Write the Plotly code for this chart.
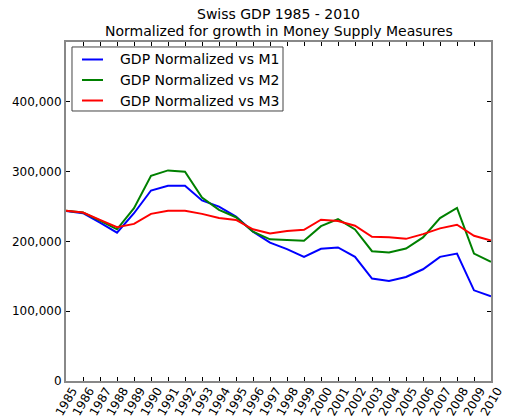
import plotly.graph_objects as go

years = list(range(1985, 2011))

gdp_m1 = [243900, 240500, 227100, 212700, 240500, 273100, 279900, 279900, 258800, 250100,
          235700, 214100, 198300, 189000, 178000, 189500, 191500, 178000, 146800, 143400,
          149200, 160200, 178000, 182700, 130000, 121400]
gdp_m2 = [243900, 241500, 230000, 217500, 247700, 294200, 301900, 300000, 263100, 245300,
          234800, 214100, 203100, 202000, 201000, 222000, 232000, 217300, 186100, 184200,
          190000, 205800, 233600, 248000, 182700, 170800]
gdp_m3 = [243900, 241500, 231000, 220400, 225200, 239600, 243900, 243900, 239600, 233800,
          230900, 217500, 211500, 215000, 216800, 231200, 229300, 222600, 206700, 206200,
          203800, 210600, 218800, 224000, 208200, 201400]

title_lines = ["Swiss GDP 1985 - 2010", "Normalized for growth in Money Supply Measures"]

series = [
    ("GDP Normalized vs M1", gdp_m1, "#0000ff"),
    ("GDP Normalized vs M2", gdp_m2, "#008000"),
    ("GDP Normalized vs M3", gdp_m3, "#ff0000"),
]

fig = go.Figure()
for name, vals, color in series:
    fig.add_trace(go.Scatter(x=years, y=vals, mode="lines", name=name, showlegend=False,
                             line={"color": color, "width": 2}))

# two title lines as annotations (plotly's multi-line title anchoring is awkward)
for txt, ypos in zip(title_lines, [1.0826, 1.0324]):
    fig.add_annotation(text=txt, xref="paper", yref="paper", x=0.5, y=ypos,
                       xanchor="center", yanchor="middle", showarrow=False,
                       font={"size": 14})

# year labels centred under their ticks, rotated like the original
for yr in years:
    fig.add_annotation(text=str(yr), xref="x", yref="paper", x=yr, y=0,
                       xanchor="center", yanchor="top", yshift=-1, textangle=-60,
                       showarrow=False, font={"size": 12})

# hand-made legend box, matplotlib style (tighter than plotly's own)
fig.add_shape(type="rect", xref="paper", yref="paper", x0=0.0141, x1=0.5106,
              y0=0.7965, y1=0.9853, line={"color": "#444444", "width": 1},
              fillcolor="white", layer="above")
for (name, _, color), ypos in zip(series, [0.9484, 0.8879, 0.8274]):
    fig.add_shape(type="line", xref="paper", yref="paper", x0=0.0376, x1=0.0871,
                  y0=ypos, y1=ypos, line={"color": color, "width": 2}, layer="above")
    fig.add_annotation(text=name, xref="paper", yref="paper", x=0.1224, y=ypos,
                       xanchor="left", yanchor="middle", showarrow=False,
                       font={"size": 14})

axis_common = dict(showline=True, linecolor="#888888", linewidth=2, mirror="ticks",
                   ticks="inside", ticklen=4, tickcolor="#000000", showgrid=False,
                   zeroline=False, automargin=False,
                   tickfont={"size": 12, "color": "#000000"})

fig.update_layout(
    width=506, height=417,
    margin={"l": 66, "r": 15, "t": 42, "b": 36},
    paper_bgcolor="white", plot_bgcolor="white",
    font={"family": "DejaVu Sans", "color": "#000000"},
    showlegend=False,
)
fig.update_xaxes(range=[1985, 2010], tickmode="array", tickvals=years,
                 showticklabels=False, **axis_common)
fig.update_yaxes(range=[0, 486000], tickvals=[0, 100000, 200000, 300000, 400000],
                 tickformat=",", **axis_common)

fig.write_html("out.html", config={"displayModeBar": False},
               post_script="document.body.style.margin='0';")
